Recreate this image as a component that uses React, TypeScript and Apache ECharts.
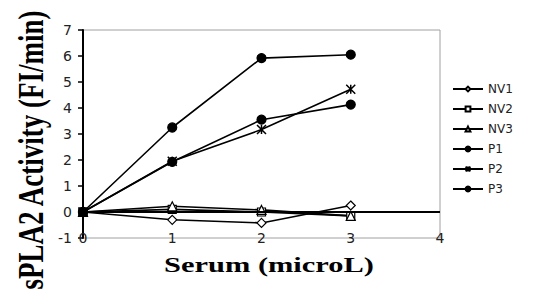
import React, { useEffect, useRef } from "react";
import * as echarts from "echarts";

const xValues = [0, 1, 2, 3];
const xTicks = [0, 1, 2, 3, 4];
const yTicks = [-1, 0, 1, 2, 3, 4, 5, 6, 7];
const seriesNames = ["NV1", "NV2", "NV3", "P1", "P2", "P3"];
const nv1 = [0, -0.3, -0.42, 0.25];
const nv2 = [0, 0.1, 0.0, -0.15];
const nv3 = [0, 0.22, 0.08, -0.15];
const p1 = [0, 3.25, 5.92, 6.05];
const p2 = [0, 1.95, 3.17, 4.72];
const p3 = [0, 1.93, 3.55, 4.13];
const xTitle = "Serum (microL)";
const yTitle = "sPLA2 Activity (FI/min)";

const asterisk = "path://M0,0L10,10M10,0L0,10M5,0L5,10";

export default function App() {
  const ref = useRef<HTMLDivElement>(null);
  useEffect(() => {
    if (!ref.current) return;
    const chart = echarts.init(ref.current, undefined, { renderer: "svg" });
    const values = [nv1, nv2, nv3, p1, p2, p3];
    const symbols = ["diamond", "rect", "triangle", "circle", asterisk, "circle"];
    const hollow = [true, true, true, false, false, false];
    const sizes = [9, 8, 9, 9, 9, 9];
    const series: any[] = values.map((vals, i) => ({
      name: seriesNames[i],
      type: "line",
      data: vals.map((v, k) => [xValues[k], v]),
      symbol: symbols[i],
      symbolSize: sizes[i],
      showSymbol: true,
      lineStyle: { color: "#000", width: 1.6 },
      itemStyle: {
        color: hollow[i] ? "#fff" : "#000",
        borderColor: "#000",
        borderWidth: i === 4 ? 1.5 : 1.2,
      },
      z: 3,
    }));
    series[0].markLine = {
      silent: true,
      symbol: "none",
      label: { show: false },
      lineStyle: { color: "#000", width: 2, type: "solid" },
      data: [{ yAxis: 0 }],
    };
    chart.setOption({
      animation: false,
      grid: {
        left: 83,
        right: 94,
        top: 30,
        bottom: 62,
        show: true,
        borderColor: "#a0a0a0",
        borderWidth: 1,
        backgroundColor: "transparent",
      },
      xAxis: {
        type: "value",
        min: xTicks[0],
        max: xTicks[xTicks.length - 1],
        interval: 1,
        axisLine: { show: false, onZero: false },
        axisTick: { show: false },
        splitLine: { show: false },
        axisLabel: {
          margin: -7,
          fontSize: 14,
          fontFamily: "DejaVu Sans",
          color: "#222",
          showMinLabel: true,
          showMaxLabel: true,
        },
      },
      yAxis: {
        type: "value",
        min: yTicks[0],
        max: yTicks[yTicks.length - 1],
        interval: 1,
        axisLine: { show: true, onZero: false, lineStyle: { color: "#000", width: 2 } },
        axisTick: { show: true, length: 5, lineStyle: { color: "#000", width: 1.5 } },
        splitLine: { show: false },
        axisLabel: {
          margin: 11,
          fontSize: 14,
          fontFamily: "DejaVu Sans",
          color: "#222",
        },
      },
      legend: {
        orient: "vertical",
        left: 447,
        top: 78,
        itemWidth: 30,
        itemHeight: 6,
        itemGap: 8,
        data: seriesNames,
        textStyle: { fontSize: 12, lineHeight: 12, fontFamily: "DejaVu Sans", color: "#222" },
      },
      graphic: [
        {
          type: "text",
          x: 269,
          y: 265,
          scaleX: 1.45,
          style: {
            text: xTitle,
            font: 'bold 21px "Liberation Serif"',
            fill: "#000",
            textAlign: "center",
            textVerticalAlign: "middle",
          },
        },
        {
          type: "text",
          x: 31,
          y: 150,
          rotation: Math.PI / 2,
          scaleY: 1.3,
          style: {
            text: yTitle,
            font: 'bold 27px "Liberation Serif"',
            fill: "#000",
            textAlign: "center",
            textVerticalAlign: "middle",
          },
        },
      ],
      series,
    });
    return () => chart.dispose();
  }, []);
  return (
    <div
      ref={ref}
      style={{ position: "fixed", left: 0, top: 0, width: 534, height: 300, background: "#fff" }}
    />
  );
}
